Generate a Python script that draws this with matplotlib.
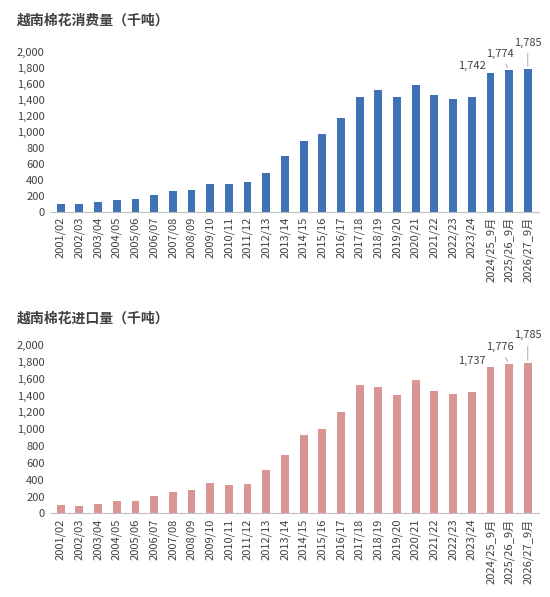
import matplotlib
matplotlib.use("Agg")
import matplotlib.pyplot as plt
plt.rcParams['font.family'] = ['Noto Sans CJK SC', 'DejaVu Sans']

years = ["2001/02","2002/03","2003/04","2004/05","2005/06","2006/07","2007/08","2008/09","2009/10","2010/11",
         "2011/12","2012/13","2013/14","2014/15","2015/16","2016/17","2017/18","2018/19","2019/20","2020/21",
         "2021/22","2022/23","2023/24","2024/25_9月","2025/26_9月","2026/27_9月"]
consumption = [95,95,125,150,165,215,265,270,350,350,370,490,700,890,980,1170,1440,1520,1440,1590,1460,1410,1440,1742,1774,1785]
imports = [95,90,115,150,150,210,260,280,365,340,350,520,690,930,1000,1200,1520,1500,1410,1590,1450,1420,1440,1737,1776,1785]

fig = plt.figure(figsize=(5.5,5.97), dpi=100)
specs = [(consumption, "#3F72B5", "越南棉花消费量（千吨）", [0.09,0.645,0.89,0.268], 0.966),
         (imports, "#D99594", "越南棉花进口量（千吨）", [0.09,0.14,0.89,0.282], 0.467)]
offsets = [(-1.0, 0), (-0.5, 120), (0.0, 250)]
for vals, col, title, rect, ty in specs:
    ax = fig.add_axes(rect)
    x = range(len(years))
    ax.bar(x, vals, width=0.42, color=col)
    ax.set_ylim(0, 2000)
    ax.set_yticks(range(0, 2001, 200))
    ax.set_yticklabels([f"{v:,}" for v in range(0, 2001, 200)], fontsize=8, color="#404040")
    ax.set_xticks(list(x))
    ax.set_xticklabels(years, rotation=90, fontsize=8, color="#404040")
    ax.set_xlim(-0.6, len(years)-0.4)
    for s in ["top","right","left"]:
        ax.spines[s].set_visible(False)
    ax.spines["bottom"].set_color("#BFBFBF")
    ax.tick_params(length=0)
    for k, i in enumerate(range(len(years)-3, len(years))):
        dx, dy = offsets[k]
        ax.annotate(f"{vals[i]:,}", (i, vals[i]), xytext=(i+dx, vals[i]+dy+20),
                    ha="center", va="bottom", fontsize=8, color="#404040",
                    arrowprops=dict(arrowstyle="-", color="#A0A0A0", lw=0.6) if dy > 0 else None,
                    annotation_clip=False)
    fig.text(0.03, ty, title, fontsize=10, fontweight="bold", color="#404040", va="center")

fig.savefig("out.png", dpi=100)
